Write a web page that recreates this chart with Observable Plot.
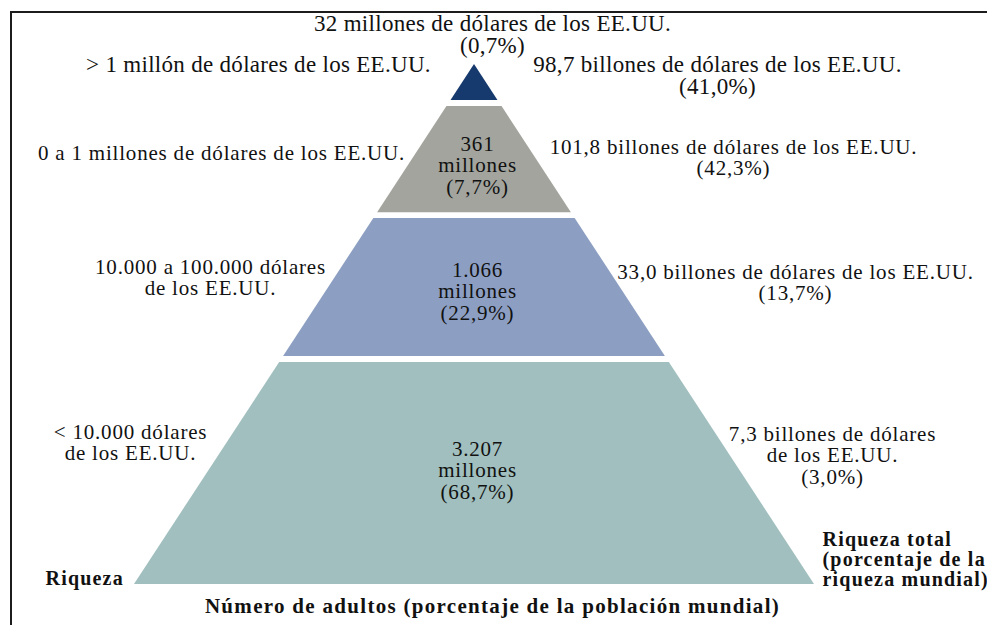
<!DOCTYPE html>
<html>
<head>
<meta charset="utf-8">
<script src="https://cdn.jsdelivr.net/npm/d3@7"></script>
<script src="https://cdn.jsdelivr.net/npm/@observablehq/plot@0.6"></script>
<style>
  html, body { margin: 0; padding: 0; background: #fff; }
  #wrap { position: relative; width: 987px; height: 625px; overflow: hidden; }
  #frame { position: absolute; left: 10px; top: 11px; right: -5px; bottom: -5px;
           border-top: 2px solid #1c1c1c; border-left: 2px solid #1c1c1c; }
  #chart { position: absolute; left: 0; top: 0; }
  #chart svg text { font-family: "Liberation Serif", "Times New Roman", serif; }
</style>
</head>
<body>
<div id="wrap"><div id="frame"></div><div id="chart"></div></div>
<script>
// ---- data ----
const tiers = ["> 1 millón", "100.000 a 1 millón", "10.000 a 100.000", "< 10.000"];
const wealthBands = [
  "> 1 millón de dólares de los EE.UU.",
  "0 a 1 millones de dólares de los EE.UU.",
  "10.000 a 100.000 dólares\nde los EE.UU.",
  "< 10.000 dólares\nde los EE.UU."
];
const adultCounts = ["32 millones de dólares de los EE.UU.", "361\nmillones", "1.066\nmillones", "3.207\nmillones"];
const adultPct = ["0,7%", "7,7%", "22,9%", "68,7%"];
const totalWealth = [
  "98,7 billones de dólares de los EE.UU.",
  "101,8 billones de dólares de los EE.UU.",
  "33,0 billones de dólares de los EE.UU.",
  "7,3 billones de dólares\nde los EE.UU."
];
const wealthPct = ["41,0%", "42,3%", "13,7%", "3,0%"];
const tierColors = ["#173a6e", "#a2a49d", "#8c9fc3", "#a0bfbe"];
const axisLabels = {
  left: "Riqueza",
  right: "Riqueza total\n(porcentaje de la\nriqueza mundial)",
  bottom: "Número de adultos (porcentaje de la población mundial)"
};

// ---- layout (pyramid: apex y=0, base y=1; half-width equals depth) ----
const bands = [[0, 0.069], [0.081, 0.285], [0.296, 0.5615], [0.573, 1]];
const pts = tiers.flatMap((t, i) => bands[i].map(y => ({tier: t, y, x1: -y, x2: y})));

const W = 987, H = 625, cx = 474, apexY = 64, baseY = 584, halfBase = 340;
const ux = p => (p - cx) / halfBase;
const uy = p => (p - apexY) / (baseY - apexY);

// label anchors (pixel layout converted to scale units)
const adultText = adultCounts.map((c, i) => `${c}\n(${adultPct[i]})`);
const wealthText = totalWealth.map((c, i) => `${c}\n(${wealthPct[i]})`);
const centerPos = [[492, 34], [477, 165], [477, 291], [477, 470]];
const leftPos = [[258, 64], [221, 153], [210, 277], [130, 442]];
const rightPos = [[717, 75], [733, 157], [795, 282], [832, 455]];

const mk = (texts, pos) => texts.map((t, i) => ({t, x: ux(pos[i][0]), y: uy(pos[i][1]), i}));
const centerLbl = mk(adultText, centerPos);
const leftLbl = mk(wealthBands, leftPos);
const rightLbl = mk(wealthText, rightPos);

const topC = centerLbl.filter(d => d.i === 0), innerC = centerLbl.filter(d => d.i > 0);
const topL = leftLbl.filter(d => d.i === 0), restL = leftLbl.filter(d => d.i > 0);
const topR = rightLbl.filter(d => d.i === 0), restR = rightLbl.filter(d => d.i > 0);

const serif = "Liberation Serif";
const common = {x: "x", y: "y", text: "t", fill: "#111", fontFamily: serif, lineAnchor: "middle"};

const plot = Plot.plot({
  width: W, height: H,
  marginLeft: cx - halfBase, marginRight: W - (cx + halfBase),
  marginTop: apexY, marginBottom: H - baseY,
  x: {domain: [-1, 1], axis: null},
  y: {domain: [0, 1], reverse: true, axis: null},
  color: {domain: tiers, range: tierColors},
  style: {background: "transparent", fontFamily: serif, overflow: "visible"},
  marks: [
    Plot.areaX(pts, {y: "y", x1: "x1", x2: "x2", z: "tier", fill: "tier", curve: "linear"}),
    // top group (larger)
    Plot.text([...topC, ...topL, ...topR], {...common, fontSize: 23, lineHeight: 0.96}),
    // others
    Plot.text([...innerC, ...restL, ...restR], {...common, fontSize: 21, lineHeight: 1.02}),
    // axis-like bold labels
    Plot.text([{t: axisLabels.left, x: ux(45), y: uy(578)}], {...common, textAnchor: "start", fontSize: 20, fontWeight: "bold"}),
    Plot.text([{t: axisLabels.right, x: ux(822), y: uy(559)}], {...common, textAnchor: "start", fontSize: 20, fontWeight: "bold", lineHeight: 1.0}),
    Plot.text([{t: axisLabels.bottom, x: ux(492), y: uy(606)}], {...common, fontSize: 21, fontWeight: "bold"})
  ]
});
document.getElementById("chart").appendChild(plot);

// letter spacing per text group
const groups = d3.select(plot).selectAll("g[aria-label='text']").nodes();
const spacing = [0.3, 0.8, 1.2, 1.2, 1.3];
groups.forEach((g, i) => g.setAttribute("letter-spacing", spacing[i] + "px"));
</script>
</body>
</html>
